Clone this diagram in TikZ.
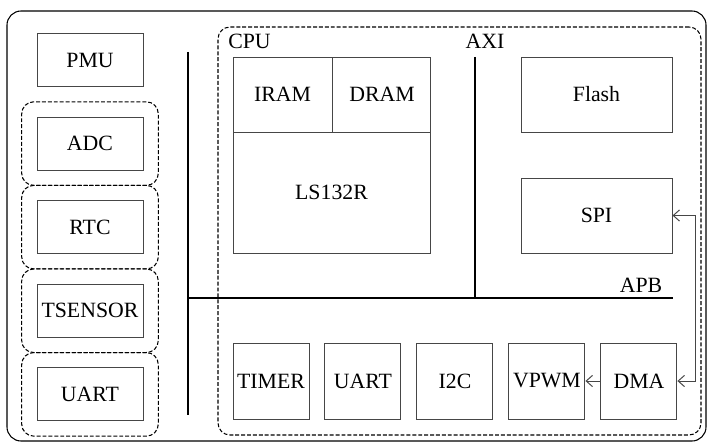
\documentclass[tikz,border=0pt]{standalone}
\usepackage{fontspec}
\setmainfont{Liberation Serif}
\usetikzlibrary{arrows.meta, positioning, fit, backgrounds}
\definecolor{edgegray}{RGB}{70, 70, 70}
\newcommand{\blkfont}{\rmfamily\fontsize{15.5}{18}\selectfont}
\tikzset{
  blk/.style     = {rectangle, draw=edgegray, line width=0.7pt, minimum width=2.65cm, minimum height=1.325cm, inner sep=0pt, align=center, font=\blkfont},
  grp/.style     = {rectangle, rounded corners=0.3cm, draw=black, line width=0.75pt, dash pattern=on 2.8pt off 1.4pt},
  bus/.style     = {draw=black, line width=0.9pt},
  lab/.style     = {inner sep=0pt, font=\blkfont},
  flow/.style    = {-{Straight Barb[length=4.5pt, width=8pt]}, draw=edgegray, line width=0.7pt},
  biflow/.style  = {{Straight Barb[length=4.5pt, width=8pt]}-{Straight Barb[length=4.5pt, width=8pt]}, draw=edgegray, line width=0.7pt},
}

\begin{document}
\begin{tikzpicture}

\useasboundingbox (0,0) rectangle (17.7,11.075);

% ==================== outer frame ====================
\draw[line width=0.75pt, rounded corners=0.35cm] (0.175,0.05) rectangle (17.65,10.8);

% ==================== left column ====================
\node[blk] (pmu) at (2.25, 9.575) {PMU};
\node[blk, below=0.74cm of pmu] (adc) {ADC};
\node[blk, below=0.74cm of adc] (rtc) {RTC};
\node[blk, below=0.74cm of rtc] (tsensor) {TSENSOR};
\node[blk, below=0.74cm of tsensor] (uartl) {UART};

\begin{scope}[on background layer]
    \node[grp, fit=(adc), inner sep=0.37cm] (Gadc) {};
    \node[grp, fit=(rtc), inner sep=0.37cm] (Grtc) {};
    \node[grp, fit=(tsensor), inner sep=0.37cm] (Gts) {};
    \node[grp, fit=(uartl), inner sep=0.37cm] (Guart) {};
\end{scope}

% ==================== buses ====================
\coordinate (lbus-t) at (4.7, 9.775);
\coordinate (lbus-b) at (4.7, 0.7);
\coordinate (apb-r)  at (16.825, 3.625);
\coordinate (axi-t)  at (11.875, 9.65);

\draw[bus] (lbus-t) -- (lbus-b);
\draw[bus] (lbus-b |- apb-r) -- (apb-r);
\draw[bus] (axi-t) -- (axi-t |- apb-r);

% ==================== CPU region ====================
\coordinate (cpu-nw) at (5.45, 10.4);
\coordinate (cpu-se) at (17.525, 0.2);
\node[grp, fit=(cpu-nw)(cpu-se), inner sep=0pt] (CPU) {};

\node[lab, anchor=west] (cpulab) at (5.7, 10.03) {CPU};
\node[lab] (axilab) at (12.125, 10.03) {AXI};
\node[lab] (apblab) at (16.025, 3.95) {APB};

\node[blk, minimum width=2.475cm, minimum height=1.875cm] (iram) at (7.0625, 8.7125) {IRAM};
\node[blk, minimum width=2.45cm, minimum height=1.875cm, right=0pt of iram] (dram) {DRAM};
\node[blk, minimum width=4.925cm, minimum height=3.025cm] (core) at (8.2875, 6.2625) {LS132R};

\node[blk, minimum width=3.775cm, minimum height=1.875cm] (flash) at (14.9125, 8.7125) {Flash};
\node[blk, minimum width=3.775cm, minimum height=1.875cm] (spi) at (14.9125, 5.6875) {SPI};

% ==================== peripherals ====================
\node[blk, minimum width=1.9cm, minimum height=1.9cm] (timer) at (6.775, 1.55) {TIMER};
\node[blk, minimum width=1.9cm, minimum height=1.9cm, right=0.375cm of timer] (uart) {UART};
\node[blk, minimum width=1.9cm, minimum height=1.9cm, right=0.375cm of uart] (i2c) {I2C};
\node[blk, minimum width=1.9cm, minimum height=1.9cm, right=0.375cm of i2c] (vpwm) {VPWM};
\node[blk, minimum width=1.9cm, minimum height=1.9cm, right=0.375cm of vpwm] (dma) {DMA};

% ==================== connections ====================
\draw[flow] (dma.west) -- (vpwm.east);
\draw[biflow] (spi.east) -- ++(0.575,0) |- (dma.east);

\end{tikzpicture}
\end{document}
